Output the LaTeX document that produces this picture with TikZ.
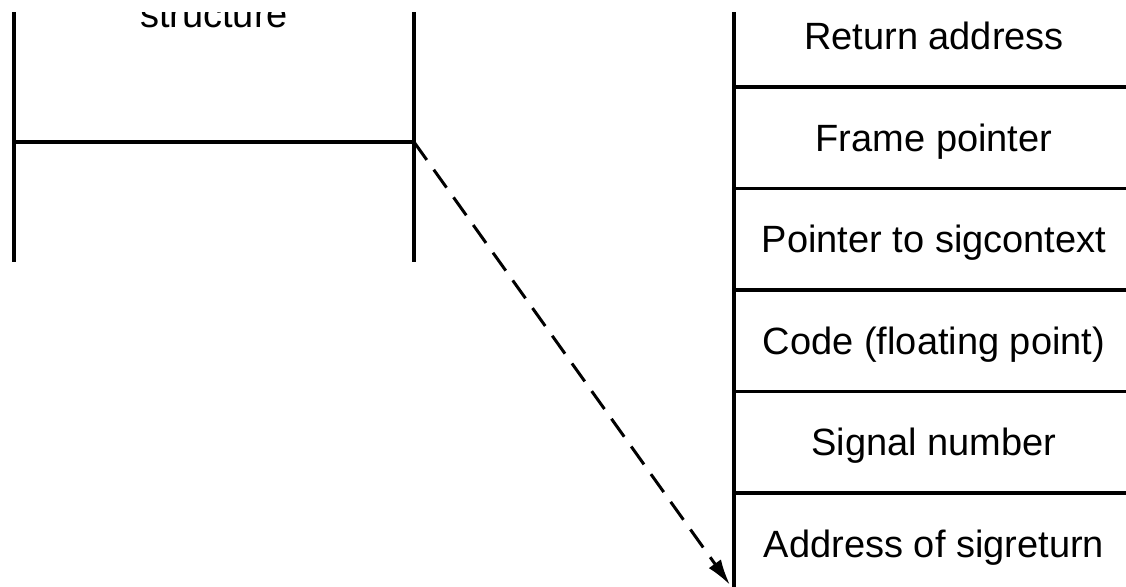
\documentclass[tikz,border=0pt]{standalone}
\usepackage{fontspec}
\setmainfont{Liberation Sans}
\usetikzlibrary{positioning,arrows.meta}

\begin{document}
\begin{tikzpicture}[x=1pt, y=-1pt, line width=3.4pt, node distance=0pt,
  cell/.style={draw, minimum width=400pt, minimum height=101.5pt, inner sep=0pt, outer sep=0pt, text height=27pt, text depth=0pt, font=\fontsize{38}{46}\selectfont}]
\useasboundingbox (0,0) rectangle (1126,586);
\clip (0,13) rectangle (1126,586);
% sigcontext structure (cut off at the top)
\node[anchor=base, font=\fontsize{38}{46}\selectfont] (lbl) at (214,28) {structure};
\coordinate (tl) at (14,0);
\coordinate (tr) at (414,0);
\coordinate (bl) at (14,262);
\coordinate (br) at (414,262);
\coordinate (ml) at (14,142);
\coordinate (mr) at (414,142);
\draw (tl) -- (bl);
\draw (tr) -- (br);
\draw (ml) -- (mr);
% stack frame
\node[cell, anchor=north west] (ret) at (734,-14.5) {Return address};
\node[cell, below=of ret] (fp) {Frame pointer};
\node[cell, below=of fp] (ctx) {Pointer to sigcontext};
\node[cell, below=of ctx] (code) {Code (floating point)};
\node[cell, below=of code] (sig) {Signal number};
\node[cell, below=of sig] (addr) {Address of sigreturn};
\coordinate (tip) at (730,585);
\draw[line width=3pt, dash pattern=on 22pt off 12pt, -{Latex[length=26pt,width=15pt]}] (mr) -- (tip);
\end{tikzpicture}
\end{document}
